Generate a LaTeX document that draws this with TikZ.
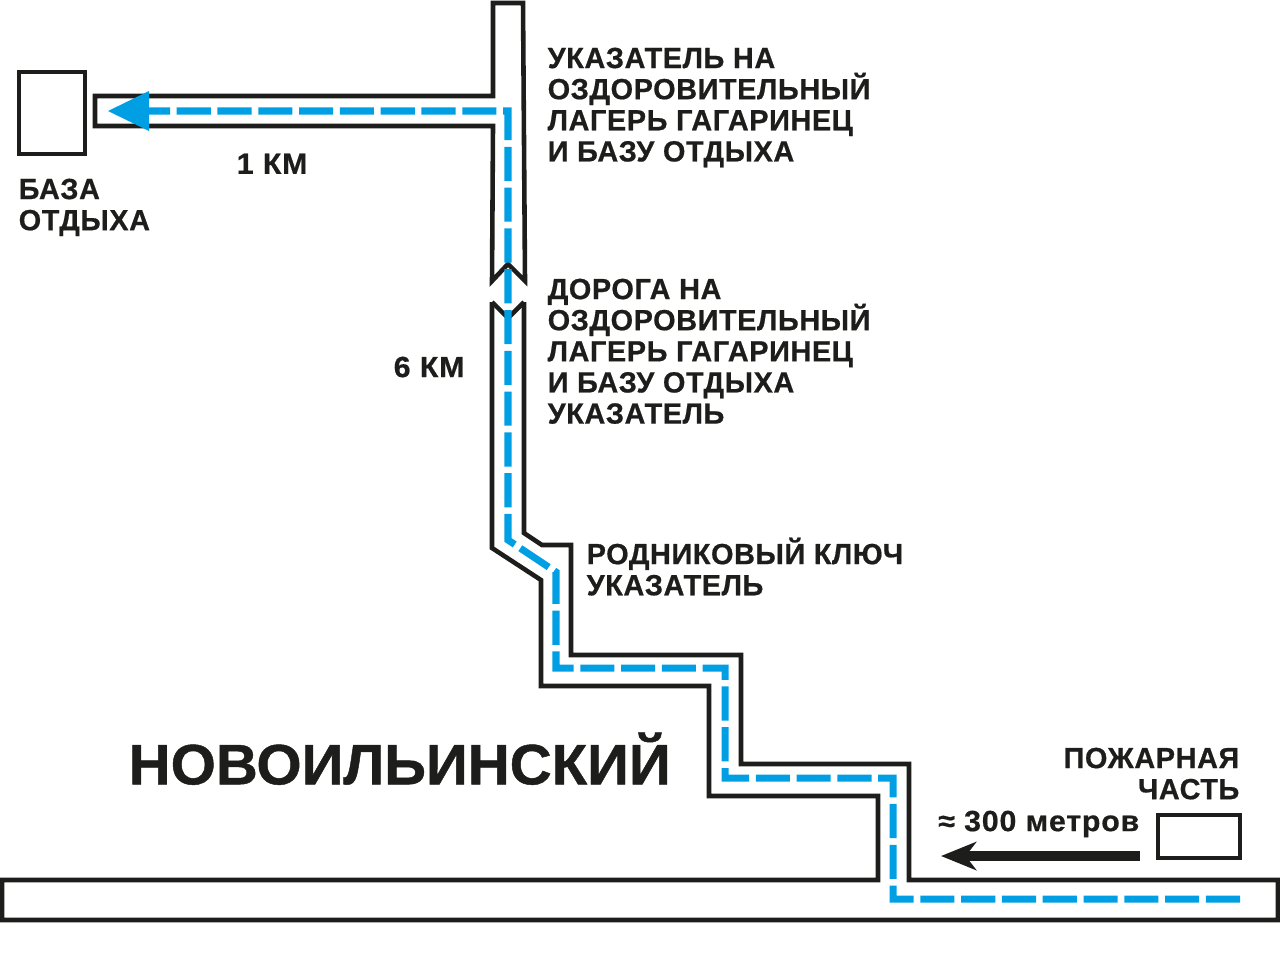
\documentclass[tikz,border=0pt]{standalone}
\usepackage{fontspec}
\setmainfont{Liberation Sans}[Ligatures=TeX]
\newfontfamily\labelfont{Liberation Sans}[BoldFeatures={FakeBold=0.6},FakeStretch=0.99,LetterSpace=2.0]
\newfontfamily\widefont{Liberation Sans}[BoldFeatures={FakeBold=0.6},FakeStretch=1.04,LetterSpace=2.8]
\newfontfamily\townfont{Liberation Sans}[BoldFeatures={FakeBold=0.8},FakeStretch=1.02]
\usetikzlibrary{arrows.meta}
\definecolor{routeblue}{HTML}{009FE3}
\definecolor{inkblack}{HTML}{1D1D1B}
\lineskiplimit=-6pt
\tikzset{
  roadwall/.style={draw=inkblack, line width=1.3pt, line join=miter},
  routeline/.style={draw=routeblue, line width=2pt, dash pattern=on 9.7pt off 1.9pt},
  maplabel/.style={inner sep=0pt, text=inkblack, align=left, font=\labelfont\bfseries\fontsize{8.3}{8.85}\selectfont},
  widelabel/.style={maplabel, font=\widefont\bfseries\fontsize{8.3}{8.85}\selectfont},
}
\begin{document}
\begin{tikzpicture}[x=0.01cm, y=-0.01cm]
\useasboundingbox (0,0) rectangle (1280,960);
\path (523,3) coordinate (topright) (493,3) coordinate (topleft) (492,302) coordinate (lowerleft) (524,302) coordinate (lowerright);
\path (878,880) coordinate (junctionleft) (909,880) coordinate (junctionright);
\draw [roadwall] (492,281) -- (508,264) -- (525,281) -- (topright) -- (topleft) -- ++(0,93) -- ++(-398,0) -- ++(0,30) -- ++(398,0) -- cycle;
\draw [roadwall] (lowerleft) -- ++(16,16) -- (lowerright);
\draw [roadwall] (lowerleft) -- ++(0,246) -- ++(49,32) -- ++(0,106) -- ++(168,0) -- ++(0,110) -- ++(169,0) -- (junctionleft) -- ++(-876,0) -- ++(0,40) -- ++(1276,0) -- ++(0,-40) -- (junctionright) -- ++(0,-116) -- ++(-168,0) -- ++(0,-109) -- ++(-170,0) -- ++(0,-110) -- ++(-29,0) -- ++(-18,-12) -- (lowerright);
\path (1240,899) coordinate (routestart) (149,111) coordinate (routeend);
\draw [routeline] (routestart) -- ++(-347,0) -- ++(0,-121) -- ++(-168,0) -- ++(0,-110) -- ++(-169,0) -- ++(0,-96) -- ++(-48,-32) -- ++(0,-429) -- (routeend);
\fill [routeblue] (routeend) ++(0,-20) -- ++(-41,20) -- ++(41,20) -- cycle;
\draw [roadwall] (19,72) coordinate (camp) rectangle ++(66,82);
\draw [roadwall] (1158,858) coordinate (firehouse) rectangle ++(82,-43);
\path (1140,856) coordinate (arrowstart) (941,856) coordinate (arrowtip);
\draw [draw=inkblack, line width=2.8pt, -{Stealth[length=10pt, width=8pt, inset=3pt]}] (arrowstart) -- (arrowtip);
\node [maplabel, anchor=north west] (signcamp) at (547,47) {УКАЗАТЕЛЬ НА\\ОЗДОРОВИТЕЛЬНЫЙ\\ЛАГЕРЬ ГАГАРИНЕЦ\\И БАЗУ ОТДЫХА};
\node [maplabel, anchor=north west] (roadcamp) at (547,278) {ДОРОГА НА\\ОЗДОРОВИТЕЛЬНЫЙ\\ЛАГЕРЬ ГАГАРИНЕЦ\\И БАЗУ ОТДЫХА\\УКАЗАТЕЛЬ};
\node [maplabel, anchor=north west] (signspring) at (586,537) {РОДНИКОВЫЙ КЛЮЧ\\УКАЗАТЕЛЬ};
\node [maplabel, anchor=north west] (basename) at (18,178) {БАЗА\\ОТДЫХА};
\node [widelabel, anchor=north west] (kmone) at (236,153) {1 КМ};
\node [widelabel, anchor=north west] (kmsix) at (393,356) {6 КМ};
\node [maplabel, anchor=north east, align=right] (firename) at (1240,747) {ПОЖАРНАЯ\\ЧАСТЬ};
\node [widelabel, anchor=north east] (distance) at (1140,810) {≈ 300 метров};
\node [inner sep=0pt, anchor=north west, text=inkblack, font=\townfont\bfseries\fontsize{16.2}{18}\selectfont] (townname) at (128,732) {НОВОИЛЬИНСКИЙ};
\end{tikzpicture}
\end{document}
